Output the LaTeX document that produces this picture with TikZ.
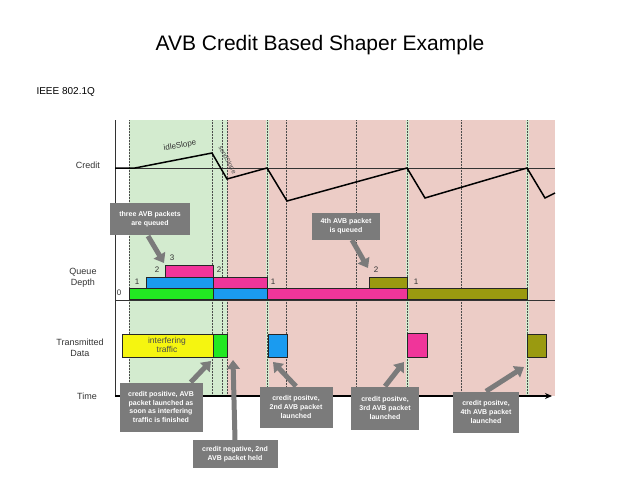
\documentclass[tikz,border=0pt]{standalone}
\usepackage{fontspec}
\setmainfont{Liberation Sans}
\usetikzlibrary{arrows.meta}
\definecolor{bggreen}{HTML}{D3EBCF}
\definecolor{bgpink}{HTML}{ECCCC6}
\definecolor{qgreen}{HTML}{22E822}
\definecolor{qblue}{HTML}{1A9BF0}
\definecolor{qpink}{HTML}{F0359A}
\definecolor{qolive}{HTML}{9A9A10}
\definecolor{qyellow}{HTML}{F5F510}
\definecolor{callgray}{HTML}{7B7B7B}
\tikzset{
  lbl/.style={font=\fontsize{9}{10.5}\selectfont, align=center, text=black!80},
  num/.style={font=\fontsize{8}{9}\selectfont, text=black!80},
  qbox/.style={draw=black!85, line width=0.9pt},
  dline/.style={densely dotted, black!70, line width=0.5pt},
  callout/.style={fill=callgray, text=white, font=\bfseries\fontsize{7}{8.6}\selectfont, align=center, inner sep=1.5pt},
  callarrow/.style={callgray, line width=5pt, -{Triangle[width=13pt,length=9pt]}},
}
\begin{document}
\begin{tikzpicture}[x=1pt,y=-1pt]
\useasboundingbox (0,0) rectangle (638,479);
\fill[white] (0,0) rectangle (638,479);
% title
\node[font=\fontsize{21}{24}\selectfont] (title) at (320,45) {AVB Credit Based Shaper Example};
\node[anchor=west, font=\fontsize{10}{12}\selectfont] (ieee) at (33,92) {IEEE 802.1Q};
% backgrounds
\fill[bggreen] (129,120) rectangle (227,396);
\fill[bgpink] (227,120) rectangle (555,396);
\foreach \x in {267,407,527} \fill[bggreen] (\x-1.5,120) rectangle (\x+1.5,396);
\foreach \x in {129,212,222,227,267,286,356,407,461,527}
  \draw[dline] (\x,120) -- (\x,396);
% axes
\coordinate (ytop) at (115,120);
\coordinate (orig) at (115,396);
\coordinate (tend) at (552,396);
\draw[black!80, line width=0.6pt] (ytop) -- (orig);
\draw[black, line width=1.2pt, -{Stealth[length=7pt,width=6pt]}] (orig) -- (tend);
\draw[black!80, line width=0.6pt] (115,168) -- (555,168);
\draw[black!80, line width=0.6pt] (115,300) -- (555,300);
% row labels
\node[lbl] (credit) at (88,165) {Credit};
\node[lbl] (queue) at (83,278) {Queue\\Depth};
\node[lbl] (trans) at (80,348) {Transmitted\\Data};
\node[lbl] (time) at (87,396) {Time};
% credit curve
\draw[black, line width=1.5pt] (115,168) -- (135,168) -- (212,153) -- (227,179) -- (267,168) -- (287,201) -- (407,168) -- (425,198) -- (527,168) -- (545,198) -- (555,193);
\node[font=\fontsize{8}{9}\selectfont, rotate=10, text=black!80] (idle) at (180,146) {idleSlope};
\node[font=\fontsize{6.5}{8}\selectfont, rotate=-62, text=black!70] (send) at (227,160) {sendSlope};
% queue depth
\draw[qbox, fill=qgreen] (129,288) rectangle (213,299);
\draw[qbox, fill=qblue] (146,277) rectangle (213,288);
\draw[qbox, fill=qpink] (165,265) rectangle (213,277);
\draw[qbox, fill=qpink] (213,277) rectangle (267,288);
\draw[qbox, fill=qblue] (213,288) rectangle (267,299);
\draw[qbox, fill=qpink] (267,288) rectangle (407,299);
\draw[qbox, fill=qolive] (369,277) rectangle (407,288);
\draw[qbox, fill=qolive] (407,288) rectangle (527,299);
\node[num] (n0) at (119,293) {0};
\node[num] (n1) at (137,282) {1};
\node[num] (n2) at (157,270) {2};
\node[num] (n3) at (172,258) {3};
\node[num] (n2b) at (219,270) {2};
\node[num] (n1b) at (273,282) {1};
\node[num] (n2c) at (376,270) {2};
\node[num] (n1c) at (416,282) {1};
% transmitted data
\draw[qbox, fill=qyellow] (122,334) rectangle (213,357);
\node[font=\fontsize{8.5}{9.5}\selectfont, align=center, text=black!70] (itf) at (167,345) {interfering\\traffic};
\draw[qbox, fill=qgreen] (213,334) rectangle (227,357);
\draw[qbox, fill=qblue] (268,334) rectangle (287,357);
\draw[qbox, fill=qpink] (407,333) rectangle (427,357);
\draw[qbox, fill=qolive] (527,334) rectangle (546,357);
% callouts
\node[callout, minimum width=80pt, minimum height=32pt] (c1) at (150,219) {three AVB packets\\are queued};
\coordinate (t1) at (164,263);
\draw[callarrow] (148,236) -- (t1);
\node[callout, minimum width=68pt, minimum height=27pt] (c2) at (346,226) {4th AVB packet\\is queued};
\coordinate (t2) at (368,268);
\draw[callarrow] (352,240) -- (t2);
\node[callout, minimum width=83pt, minimum height=49pt] (c3) at (161,407) {credit positive, AVB\\packet launched as\\soon as interfering\\traffic is finished};
\coordinate (t3) at (211,361);
\draw[callarrow] (c3.north east) ++(-12,0) -- (t3);
\node[callout, minimum width=85pt, minimum height=28pt] (c4) at (235,454) {credit negative, 2nd\\AVB packet held};
\coordinate (t4) at (233,360);
\draw[callarrow] (c4.north) -- (t4);
\node[callout, minimum width=73pt, minimum height=41pt] (c5) at (296,407) {credit positve,\\2nd AVB packet\\launched};
\coordinate (t5) at (273,362);
\draw[callarrow] (c5.north) -- (t5);
\node[callout, minimum width=68pt, minimum height=43pt] (c6) at (385,408) {credit positve,\\3rd AVB packet\\launched};
\coordinate (t6) at (404,362);
\draw[callarrow] (c6.north) -- (t6);
\node[callout, minimum width=66pt, minimum height=41pt] (c7) at (486,412) {credit positve,\\4th AVB packet\\launched};
\coordinate (t7) at (524,367);
\draw[callarrow] (c7.north) -- (t7);
\end{tikzpicture}
\end{document}
